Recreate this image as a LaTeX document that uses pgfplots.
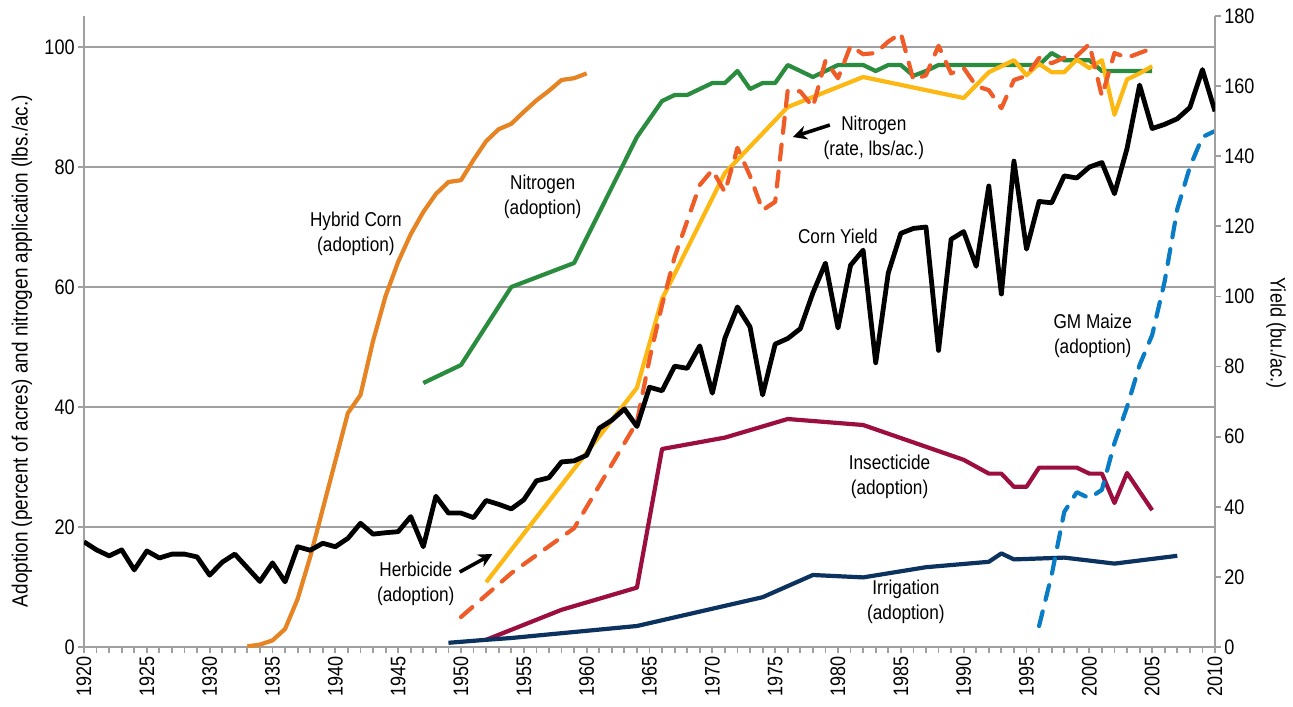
\documentclass[border=0pt]{standalone}
\usepackage{fontspec}
\setmainfont{Liberation Sans}[FakeStretch=0.86]
\usepackage{pgfplots}
\pgfplotsset{compat=1.18}
\usetikzlibrary{arrows.meta}
\definecolor{hyb}{RGB}{230,131,35}
\definecolor{nadopt}{RGB}{42,140,62}
\definecolor{nrate}{RGB}{240,92,40}
\definecolor{herb}{RGB}{253,184,19}
\definecolor{insect}{RGB}{155,14,62}
\definecolor{irrig}{RGB}{12,50,96}
\definecolor{gm}{RGB}{8,124,196}
\definecolor{axgray}{RGB}{160,160,160}
\pgfplotsset{
  common/.style={
    at={(0,0)}, anchor=south west, scale only axis,
    width=565.5pt, height=315.5pt,
    xmin=1920, xmax=2010,
    tick align=outside,
    major tick length=3pt, minor tick length=3pt,
    tick style={draw=axgray, line width=0.9pt},
    axis line style={draw=axgray, line width=0.9pt, -},
    /pgf/number format/assume math mode=true,
    /pgf/number format/1000 sep={},
    ticklabel style={font=\fontsize{10.5}{12}\selectfont},
  }
}
\begin{document}
\begin{tikzpicture}
\useasboundingbox (-42pt,-29.5pt) rectangle (604.5pt,323.5pt);
\begin{axis}[common,
  ymin=0, ymax=105.17,
  axis x line*=bottom, axis y line*=left,
  xtick={1920,1925,...,2010},
  minor xtick={1920,1921,...,2010},
  ytick={0,20,...,100},
  ymajorgrids, grid style={draw=axgray, line width=0.9pt},
  xticklabel style={rotate=90, anchor=east, inner sep=1.5pt},
  yticklabel style={inner sep=1.5pt},
  every axis plot/.append style={line width=2.1pt, line join=round},
]
% Hybrid corn
\addplot[hyb, no markers] coordinates {
(1933,0.1)(1934,0.4)(1935,1.1)(1936,3.0)(1937,8.0)(1938,15)(1939,23)(1940,31)(1941,39)(1942,42)(1943,51)(1944,58.5)(1945,64.2)(1946,68.8)(1947,72.5)(1948,75.5)(1949,77.5)(1950,77.8)(1951,81.2)(1952,84.3)(1953,86.3)(1954,87.2)(1955,89.2)(1956,91.1)(1957,92.7)(1958,94.5)(1959,94.8)(1960,95.6)};
% Nitrogen adoption
\addplot[nadopt, no markers] coordinates {
(1947,44)(1950,47)(1954,60)(1959,64)(1964,85)(1966,91)(1967,92)(1968,92)(1970,94)(1971,94)(1972,96)(1973,93)(1974,94)(1975,94)(1976,97)(1978,95)(1979,96)(1980,97)(1981,97)(1982,97)(1983,96)(1984,97)(1985,97)(1986,95.2)(1987,96)(1988,97)(1989,97)(1990,97)(1991,97)(1992,97)(1993,97)(1994,97)(1995,97)(1996,97)(1997,99)(1998,97.8)(1999,97.8)(2000,97.8)(2001,96)(2002,96)(2003,96)(2004,96)(2005,96)};
% Herbicide
\addplot[herb, no markers] coordinates {
(1952,10.8)(1964,43.2)(1966,58)(1971,79)(1976,90)(1982,95)(1990,91.5)(1992,95.8)(1994,97.8)(1995,95.3)(1996,97.2)(1997,95.8)(1998,95.8)(1999,97.9)(2000,96.5)(2001,97.8)(2002,88.7)(2003,94.6)(2004,95.6)(2005,96.8)};
% Nitrogen rate
\addplot[nrate, no markers, line cap=round, dash pattern=on 7.5pt off 6pt] coordinates {
(1950,5)(1954,12.3)(1959,19.8)(1964,37.5)(1965,48)(1966,57)(1967,65)(1968,71)(1969,77)(1970,79.5)(1971,75.8)(1972,83.2)(1973,78.5)(1974,72.8)(1975,74.2)(1976,92.8)(1977,92.6)(1978,90)(1979,97.7)(1980,94.8)(1981,100.2)(1982,98.8)(1983,99)(1984,100.9)(1985,102.3)(1986,94.5)(1987,95.3)(1988,100.2)(1989,95.6)(1990,96.5)(1991,93.5)(1992,92.8)(1993,89.8)(1994,94.5)(1995,95.2)(1996,98.2)(1997,97.3)(1998,98.2)(1999,98.5)(2000,100.5)(2001,91.8)(2002,99)(2003,98.2)(2004,99)(2005,99.8)};
% Insecticide
\addplot[insect, no markers] coordinates {
(1952,1.2)(1958,6.2)(1964,9.9)(1966,33)(1971,34.9)(1976,38)(1982,37)(1990,31.2)(1992,28.9)(1993,28.9)(1994,26.7)(1995,26.7)(1996,29.9)(1999,29.9)(2000,28.9)(2001,28.9)(2002,24)(2003,29)(2005,22.8)};
% Irrigation
\addplot[irrig, no markers] coordinates {
(1949,0.7)(1952,1.2)(1954,1.5)(1964,3.5)(1974,8.3)(1978,12)(1982,11.6)(1987,13.3)(1992,14.2)(1993,15.6)(1994,14.6)(1998,14.9)(2002,13.9)(2007,15.2)};
% GM maize
\addplot[gm, no markers, line cap=round, dash pattern=on 7.5pt off 6pt] coordinates {
(1996,3.5)(1997,12)(1998,22.5)(1999,25.8)(2000,24.8)(2001,26.2)(2002,34)(2003,40)(2004,47)(2005,52)(2006,61)(2007,73)(2008,80)(2009,85)(2010,86)};

% annotations
\begin{scope}[every node/.style={font=\fontsize{10}{12.5}\selectfont, align=center, inner sep=0pt}]
\node at (axis cs:1941.64,68.8) {Hybrid Corn\\(adoption)};
\node at (axis cs:1956.5,75.0) {Nitrogen\\(adoption)};
\node at (axis cs:1982.85,84.8) {Nitrogen\\(rate, lbs/ac.)};
\node at (axis cs:1979.99,68.5) {Corn Yield};
\node at (axis cs:2000.27,51.8) {GM Maize\\(adoption)};
\node at (axis cs:1984.1,28.3) {Insecticide\\(adoption)};
\node at (axis cs:1985.4,7.5) {Irrigation\\(adoption)};
\node at (axis cs:1946.4,10.5) {Herbicide\\(adoption)};
\end{scope}
\draw[black, line width=1.8pt, -{Stealth[length=7pt,width=7pt]}] (axis cs:1979.35,87.0) -- (axis cs:1976.4,85.0);
\draw[black, line width=1.8pt, -{Stealth[length=7pt,width=7pt]}] (axis cs:1949.9,12.5) -- (axis cs:1952.5,15.5);
\end{axis}
\begin{axis}[common,
  ymin=0, ymax=180,
  axis x line=none, axis y line*=right,
  ytick={0,20,...,180},
  yticklabel style={inner sep=1.5pt},
]
\addplot[black, no markers, line width=2.4pt, line join=round] coordinates {
(1920,30.0)(1921,27.7)(1922,26.0)(1923,27.7)(1924,22.0)(1925,27.4)(1926,25.4)(1927,26.5)(1928,26.5)(1929,25.7)(1930,20.5)(1931,24.2)(1932,26.5)(1933,22.6)(1934,18.7)(1935,24.0)(1936,18.6)(1937,28.6)(1938,27.6)(1939,29.6)(1940,28.6)(1941,31.0)(1942,35.3)(1943,32.2)(1944,32.6)(1945,32.9)(1946,37.2)(1947,28.6)(1948,43.0)(1949,38.2)(1950,38.2)(1951,36.9)(1952,41.8)(1953,40.7)(1954,39.4)(1955,42.0)(1956,47.4)(1957,48.3)(1958,52.8)(1959,53.1)(1960,54.7)(1961,62.4)(1962,64.7)(1963,67.9)(1964,62.9)(1965,74.1)(1966,73.1)(1967,80.1)(1968,79.5)(1969,85.9)(1970,72.4)(1971,88.1)(1972,97.0)(1973,91.3)(1974,71.9)(1975,86.4)(1976,88.0)(1977,90.8)(1978,101.0)(1979,109.5)(1980,91.0)(1981,108.9)(1982,113.2)(1983,81.1)(1984,106.7)(1985,118.0)(1986,119.4)(1987,119.8)(1988,84.6)(1989,116.3)(1990,118.5)(1991,108.6)(1992,131.5)(1993,100.7)(1994,138.6)(1995,113.5)(1996,127.1)(1997,126.7)(1998,134.4)(1999,133.8)(2000,136.9)(2001,138.2)(2002,129.3)(2003,142.2)(2004,160.3)(2005,147.9)(2006,149.1)(2007,150.7)(2008,153.9)(2009,164.7)(2010,152.8)};
\end{axis}
\node[rotate=90, font=\fontsize{11}{12}\selectfont] at (-31pt,148pt) {Adoption (percent of acres) and nitrogen application (lbs./ac.)};
\node[rotate=-90, font=\fontsize{10.5}{12}\selectfont] at (596pt,157pt) {Yield (bu./ac.)};
\end{tikzpicture}
\end{document}
